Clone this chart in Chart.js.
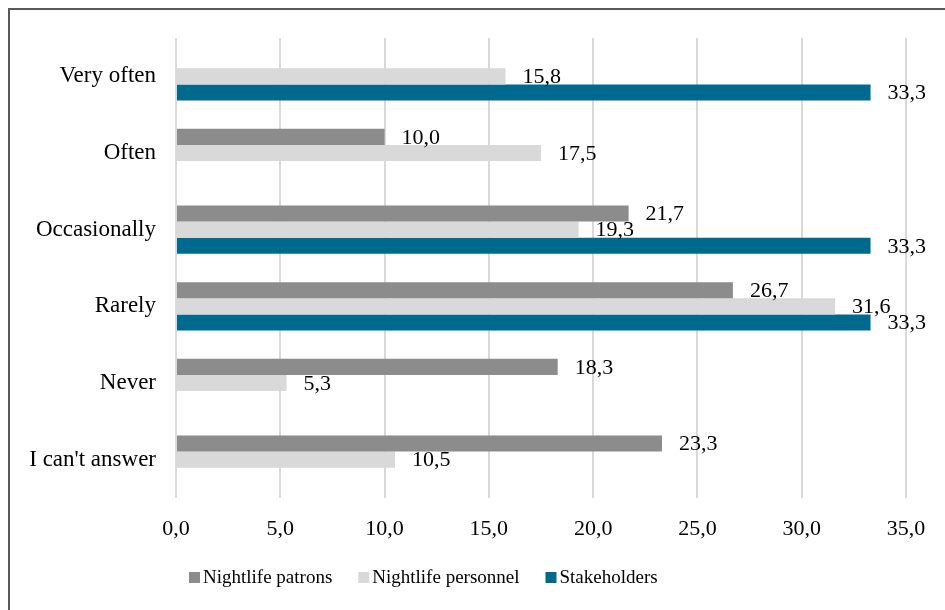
<!DOCTYPE html>
<html>
<head>
<meta charset="utf-8">
<script src="https://cdn.jsdelivr.net/npm/chart.js@4.4.1/dist/chart.umd.min.js"></script>
<style>
  html, body { margin: 0; padding: 0; background: #fff; }
  #wrap { position: relative; width: 945px; height: 610px; overflow: hidden; }
  #frame { position: absolute; left: 8px; top: 8px; width: 960px; height: 640px;
           border-left: 2px solid #595959; border-top: 2px solid #595959; box-sizing: border-box; }
  canvas { position: absolute; left: 0; top: 0; }
</style>
</head>
<body>
<div id="wrap">
  <div id="frame"></div>
  <canvas id="chart" width="945" height="610"></canvas>
</div>
<script>
// Answer categories, top to bottom
const categories = ['Very often', 'Often', 'Occasionally', 'Rarely', 'Never', "I can't answer"];

// Share of respondents (%) per group; null = no answer in that group
const patrons     = [null, 10.0, 21.7, 26.7, 18.3, 23.3];
const personnel   = [15.8, 17.5, 19.3, 31.6, 5.3, 10.5];
const stakeholders = [33.3, null, 33.3, 33.3, null, null];

const seriesNames = ['Nightlife patrons', 'Nightlife personnel', 'Stakeholders'];
const seriesColors = ['#8c8c8c', '#d9d9d9', '#006a8e'];

// Axis range and tick step
const xMin = 0, xMax = 35, xStep = 5;

const SERIF = '"Liberation Serif", "DejaVu Serif", serif';
const fmt = v => v.toFixed(1).replace('.', ',');

// Value labels drawn just past the end of each bar
const valueLabels = {
  id: 'valueLabels',
  afterDatasetsDraw(chart) {
    const ctx = chart.ctx;
    ctx.save();
    ctx.font = '22px ' + SERIF;
    ctx.fillStyle = '#000';
    ctx.textAlign = 'left';
    ctx.textBaseline = 'middle';
    chart.data.datasets.forEach((ds, di) => {
      const meta = chart.getDatasetMeta(di);
      meta.data.forEach((el, i) => {
        const v = ds.data[i];
        if (v === null || v === undefined) return;
        ctx.fillText(fmt(v), el.x + 17, el.y + 1);
      });
    });
    ctx.restore();
  }
};

// Legend row under the axis
const bottomLegend = {
  id: 'bottomLegend',
  afterDraw(chart) {
    const ctx = chart.ctx;
    ctx.save();
    ctx.font = '19px ' + SERIF;
    ctx.textBaseline = 'middle';
    ctx.textAlign = 'left';
    let x = 189;
    const y = 578;
    chart.data.datasets.forEach(ds => {
      ctx.fillStyle = ds.backgroundColor;
      ctx.fillRect(x, y - 6, 11, 11);
      ctx.fillStyle = '#000';
      ctx.fillText(ds.label, x + 14, y);
      x += 14 + ctx.measureText(ds.label).width + 26;
    });
    ctx.restore();
  }
};

new Chart(document.getElementById('chart'), {
  type: 'bar',
  data: {
    labels: categories,
    datasets: [
      { label: seriesNames[0], data: patrons,      backgroundColor: seriesColors[0] },
      { label: seriesNames[1], data: personnel,    backgroundColor: seriesColors[1] },
      { label: seriesNames[2], data: stakeholders, backgroundColor: seriesColors[2] }
    ]
  },
  options: {
    indexAxis: 'y',
    responsive: false,
    animation: false,
    skipNull: false,
    categoryPercentage: 0.63,
    barPercentage: 1.0,
    layout: { padding: { top: 38, right: 39, left: 0, bottom: 53 } },
    plugins: {
      legend: { display: false },
      tooltip: { enabled: false }
    },
    scales: {
      x: {
        min: xMin, max: xMax,
        afterFit(scale) { scale.height = 59; },
        border: { display: false },
        grid: { color: '#d9d9d9', lineWidth: 2, drawTicks: false },
        ticks: {
          stepSize: xStep,
          padding: 18,
          color: '#000',
          font: { family: SERIF, size: 22 },
          callback: v => fmt(v)
        }
      },
      y: {
        afterFit(scale) { scale.width = 176; },
        border: { display: false },
        grid: { display: false, drawTicks: false },
        ticks: {
          padding: 20,
          color: '#000',
          font: { family: SERIF, size: 23 }
        }
      }
    }
  },
  plugins: [valueLabels, bottomLegend]
});
</script>
</body>
</html>
